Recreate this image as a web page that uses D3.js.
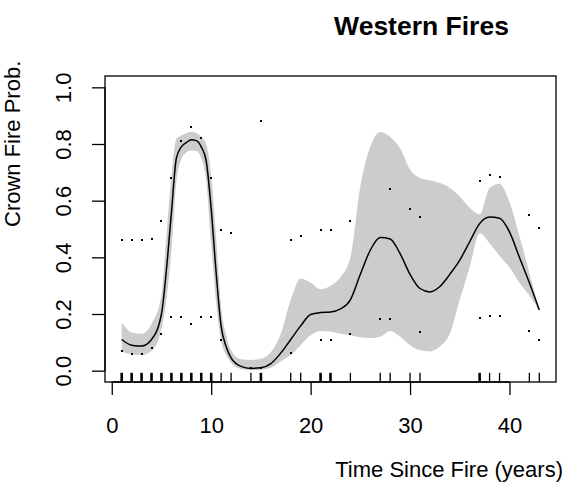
<!DOCTYPE html>
<html>
<head>
<meta charset="utf-8">
<script src="https://cdn.jsdelivr.net/npm/d3@7"></script>
<style>
  html, body { margin: 0; padding: 0; background: #fff; }
  svg { display: block; font-family: "Liberation Sans", Arial, Helvetica, sans-serif; }
</style>
</head>
<body>
<svg id="chart" width="567" height="497"></svg>
<script>
// Smoothed fit of crown fire probability against years since fire
const gridYears = [1,2,3,4,5,5.5,6,6.5,7,7.5,8,8.5,9,9.5,10,10.5,11,11.5,12,13,14,15,16,17,18,19,20,21,22,23,24,25,26,27,28,29,30,31,32,33,34,35,36,37,38,39,40,41,42,43];
const fitProb  = [0.11,0.09,0.087,0.11,0.20,0.357,0.558,0.75,0.79,0.805,0.815,0.812,0.79,0.74,0.571,0.345,0.157,0.085,0.045,0.015,0.008,0.01,0.025,0.062,0.11,0.158,0.198,0.205,0.207,0.218,0.25,0.34,0.425,0.47,0.465,0.413,0.34,0.29,0.278,0.297,0.34,0.39,0.455,0.519,0.542,0.538,0.49,0.4,0.31,0.214];
const fitUpper = [0.17,0.135,0.13,0.165,0.268,0.478,0.687,0.818,0.83,0.838,0.843,0.84,0.825,0.8,0.69,0.47,0.225,0.126,0.072,0.04,0.038,0.042,0.065,0.13,0.25,0.325,0.31,0.287,0.3,0.33,0.40,0.65,0.79,0.842,0.825,0.785,0.71,0.68,0.672,0.662,0.645,0.615,0.575,0.552,0.645,0.66,0.595,0.475,0.345,0.216];
const fitLower = [0.068,0.058,0.055,0.07,0.146,0.252,0.422,0.668,0.746,0.77,0.777,0.775,0.75,0.67,0.446,0.24,0.106,0.056,0.028,0.006,0.002,0.003,0.01,0.033,0.055,0.09,0.125,0.14,0.138,0.13,0.125,0.118,0.115,0.12,0.14,0.12,0.09,0.072,0.068,0.085,0.13,0.25,0.366,0.485,0.45,0.405,0.365,0.31,0.265,0.212];

// Observed proportions
const obsYears = [1,2,3,4,1,2,3,4,5,5,6,6,7,7,8,8,9,9,10,10,11,11,12,14,15,15,18,18,19,21,21,22,22,24,24,27,28,28,30,31,31,37,37,38,38,39,39,42,42,43,43];
const obsProb  = [0.46,0.46,0.46,0.465,0.07,0.06,0.06,0.08,0.53,0.13,0.68,0.19,0.81,0.19,0.86,0.165,0.82,0.19,0.68,0.19,0.495,0.11,0.486,0.008,0.88,0.008,0.46,0.063,0.475,0.496,0.109,0.496,0.109,0.528,0.13,0.183,0.64,0.183,0.57,0.543,0.136,0.67,0.186,0.69,0.194,0.683,0.194,0.548,0.14,0.502,0.108];

// Years carrying fire records (rug), with record counts
const rugYears  = [1,2,3,4,5,6,7,8,9,10,11,12,14,15,18,19,21,22,24,27,28,30,31,37,38,39,42,43];
const rugCounts = [2,2,2,2,2,2,2,2,2,2,1,1,1,2,1,1,2,2,1,1,1,1,1,2,1,1,1,1];

const xTicks = [0,10,20,30,40];
const yTicks = [0,0.2,0.4,0.6,0.8,1.0];

const titleText = "Western Fires";
const xLabel = "Time Since Fire (years)";
const yLabel = "Crown Fire Prob.";

const svg = d3.select("#chart");
const plotL = 105, plotR = 556, plotT = 76, plotB = 382;

const xMin = 1, xMax = 43, xPad = 0.04 * (xMax - xMin);
const x = d3.scaleLinear().domain([xMin - xPad, xMax + xPad]).range([plotL, plotR]);
const y = d3.scaleLinear().domain([-0.04, 1.04]).range([plotB, plotT]);

const fitRows = gridYears.map((g, i) => ({ g, p: fitProb[i], lo: fitLower[i], hi: fitUpper[i] }));

// confidence band
svg.append("path")
  .datum(fitRows)
  .attr("fill", "#cccccc")
  .attr("stroke", "none")
  .attr("d", d3.area().curve(d3.curveMonotoneX)
    .x(d => x(d.g)).y0(d => y(d.lo)).y1(d => y(d.hi)));

// fitted curve
svg.append("path")
  .datum(fitRows)
  .attr("fill", "none")
  .attr("stroke", "#000")
  .attr("stroke-width", 1.5)
  .attr("stroke-linejoin", "round")
  .attr("d", d3.line().curve(d3.curveMonotoneX).x(d => x(d.g)).y(d => y(d.p)));

// observed points
svg.append("g").selectAll("rect")
  .data(obsYears.map((yr, i) => ({ yr, p: obsProb[i] })))
  .join("rect")
  .attr("x", d => Math.round(x(d.yr)) - 1)
  .attr("y", d => Math.round(y(d.p)) - 1)
  .attr("width", 2).attr("height", 2)
  .attr("fill", "#000");

// rug
svg.append("g").selectAll("line")
  .data(rugYears.map((yr, i) => ({ yr, n: rugCounts[i] })))
  .join("line")
  .attr("x1", d => x(d.yr)).attr("x2", d => x(d.yr))
  .attr("y1", plotB).attr("y2", plotB - 0.03 * (plotB - plotT))
  .attr("stroke", "#000")
  .attr("stroke-width", d => d.n > 1 ? 2.6 : 1.3);

// plot frame
svg.append("rect")
  .attr("x", plotL).attr("y", plotT)
  .attr("width", plotR - plotL).attr("height", plotB - plotT)
  .attr("fill", "none").attr("stroke", "#000").attr("stroke-width", 1.3);

// x axis
const xAxis = svg.append("g").attr("transform", `translate(0,${plotB})`)
  .call(d3.axisBottom(x).tickValues(xTicks).tickSize(13).tickSizeOuter(0).tickPadding(0).tickFormat(d3.format("d")));
xAxis.select(".domain").attr("d", `M${x(0)},0H${x(40)}`).attr("stroke-width", 1.3);
xAxis.selectAll(".tick line").attr("stroke-width", 1.3);
xAxis.selectAll(".tick text").attr("font-size", 22).attr("fill", "#000")
  .attr("dy", null).attr("y", 433 - plotB);

// y axis
const yAxis = svg.append("g").attr("transform", `translate(${plotL},0)`)
  .call(d3.axisLeft(y).tickValues(yTicks).tickSize(13).tickSizeOuter(0).tickFormat(d3.format(".1f")));
yAxis.select(".domain").attr("d", `M0,${y(0)}V${y(1)}`).attr("stroke-width", 1.3);
yAxis.selectAll(".tick line").attr("stroke-width", 1.3);
yAxis.selectAll(".tick text")
  .attr("font-size", 22).attr("fill", "#000")
  .attr("x", null).attr("dy", null)
  .attr("text-anchor", "middle")
  .attr("transform", `translate(${71 - plotL},0) rotate(-90)`);

// titles
svg.append("text")
  .attr("x", 421.5).attr("y", 35)
  .attr("text-anchor", "middle")
  .attr("font-size", 26.5).attr("font-weight", "bold")
  .text(titleText);

svg.append("text")
  .attr("x", 563).attr("y", 477)
  .attr("text-anchor", "end")
  .attr("font-size", 22)
  .text(xLabel);

svg.append("text")
  .attr("transform", "translate(19.5,227) rotate(-90)")
  .attr("text-anchor", "start")
  .attr("font-size", 22)
  .text(yLabel);
</script>
</body>
</html>
